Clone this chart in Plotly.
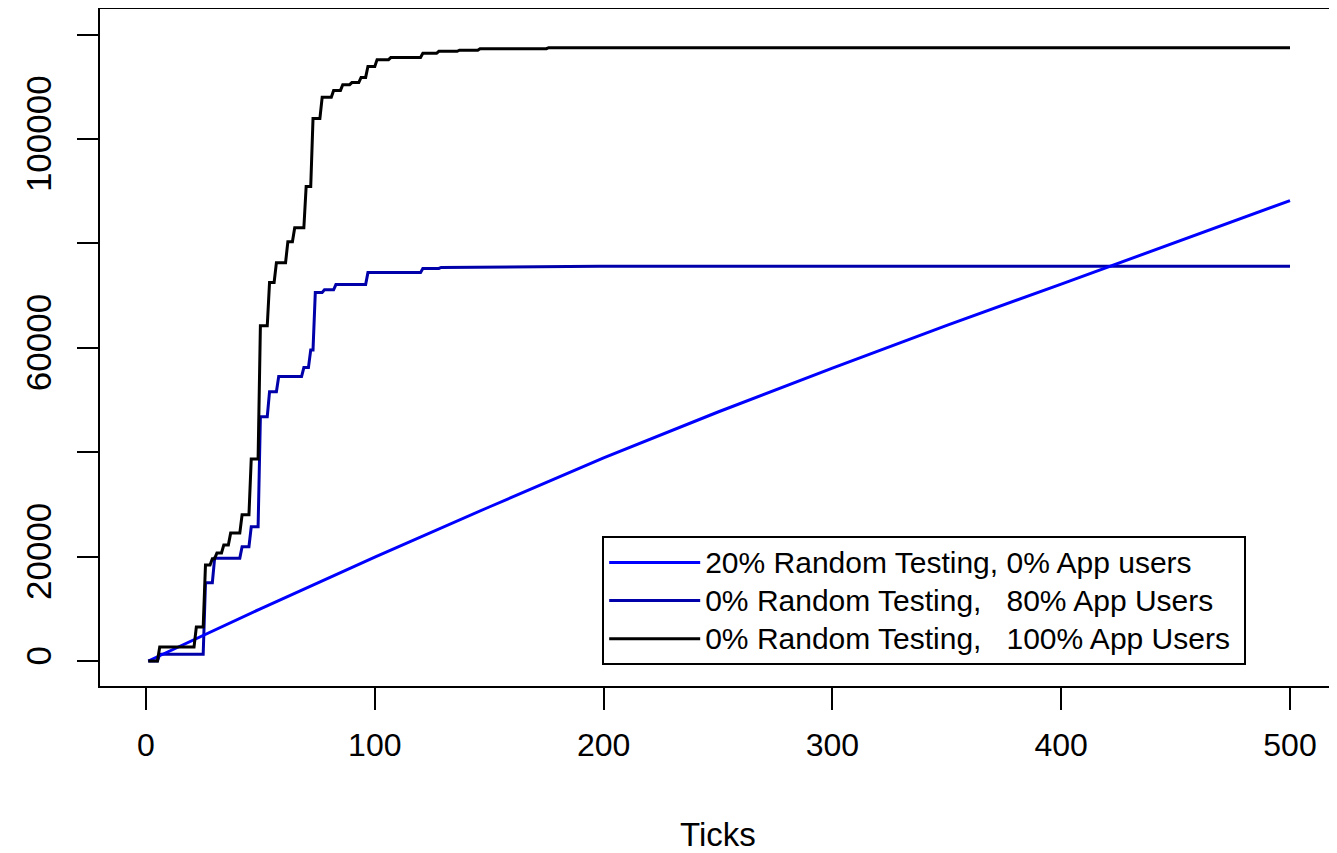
import plotly.graph_objects as go

# ---- data ----
rt20_ticks = [1, 50, 100, 150, 200, 250, 300, 350, 400, 450, 500]
rt20_vals = [0, 10000, 19900, 29500, 38900, 47700, 56100, 64300, 72200, 80200, 88200]

app80_ticks = [1, 5, 6, 25, 26, 29, 30, 41, 42, 45, 46, 49, 50, 53, 54, 57, 58, 68, 69,
               71, 72, 73, 74, 77, 78, 82, 83, 96, 97, 120, 121, 128, 129, 155, 198, 500]
app80_vals = [0, 0, 1300, 1300, 15000, 15000, 19700, 19700, 21900, 21900, 25700, 25700,
              46800, 46800, 51600, 51600, 54500, 54500, 56200, 56200, 59600, 59600, 70600,
              70600, 71100, 71100, 72100, 72100, 74400, 74400, 75200, 75200, 75400, 75500,
              75600, 75600]

app100_ticks = [1, 5, 6, 21, 22, 25, 26, 28, 29, 30, 31, 33, 34, 36, 37, 41, 42, 45, 46,
                49, 50, 53, 54, 56, 57, 61, 62, 64, 65, 69, 70, 72, 73, 76, 77, 81, 82, 85,
                86, 89, 90, 93, 94, 96, 97, 100, 101, 106, 107, 120, 121, 127, 128, 136,
                137, 145, 146, 175, 176, 500]
app100_vals = [0, 0, 2700, 2700, 6500, 6500, 18400, 18400, 19600, 19600, 20700, 20700,
               22200, 22200, 24500, 24500, 28000, 28000, 38700, 38700, 64200, 64200, 72500,
               72500, 76300, 76300, 80300, 80300, 83000, 83000, 90900, 90900, 103900,
               103900, 108000, 108000, 109300, 109300, 110400, 110400, 110800, 110800,
               111800, 111800, 113900, 113900, 115200, 115200, 115600, 115600, 116400,
               116400, 116800, 116800, 117000, 117000, 117300, 117300, 117500, 117500]

series_names = ["20% Random Testing, 0% App users",
                "0% Random Testing,\u00a0\u00a0 80% App Users",
                "0% Random Testing,\u00a0\u00a0 100% App Users\u00a0"]

x_tick_vals = [0, 100, 200, 300, 400, 500]
x_tick_text = ["0", "100", "200", "300", "400", "500"]
y_tick_vals = [0, 20000, 40000, 60000, 80000, 100000, 120000]
y_tick_text = ["0", "20000", "", "60000", "", "100000", ""]

FONT = "Liberation Sans, Arial, sans-serif"


def legend_label(s):
    return '<span style="font-size:30px">' + s + '</span>'


fig = go.Figure()
fig.add_trace(go.Scatter(x=app80_ticks, y=app80_vals, mode="lines",
                         name=legend_label(series_names[1]),
                         line=dict(color="#0000AA", width=3), legendrank=2))
fig.add_trace(go.Scatter(x=rt20_ticks, y=rt20_vals, mode="lines",
                         name=legend_label(series_names[0]),
                         line=dict(color="#0000FF", width=3), legendrank=1))
fig.add_trace(go.Scatter(x=app100_ticks, y=app100_vals, mode="lines",
                         name=legend_label(series_names[2]),
                         line=dict(color="#000000", width=3), legendrank=3))

axis_common = dict(showgrid=False, zeroline=False, showline=True, linecolor="black",
                   linewidth=2, mirror=True, ticks="outside", tickcolor="black",
                   tickwidth=2, automargin=False)

fig.update_xaxes(range=[-20.1, 520.1], tickvals=x_tick_vals, ticktext=x_tick_text,
                 ticklen=22, ticklabelstandoff=8,
                 tickfont=dict(family=FONT, size=32, color="black"),
                 title=dict(text="Ticks", font=dict(family=FONT, size=33, color="black"),
                            standoff=62),
                 **axis_common)
fig.update_yaxes(range=[-4790, 124900], tickvals=y_tick_vals, ticktext=y_tick_text,
                 ticklen=21, tickangle=-90, ticklabelstandoff=12,
                 tickfont=dict(family=FONT, size=35, color="black"),
                 **axis_common)

fig.update_layout(
    width=1329, height=845,
    margin=dict(l=92, r=1, t=1, b=167),
    plot_bgcolor="white", paper_bgcolor="white",
    font=dict(family=FONT, color="black"),
    legend=dict(x=0.4063, y=0.2209, xanchor="left", yanchor="top",
                bordercolor="black", borderwidth=2, bgcolor="white",
                font=dict(family=FONT, size=27, color="black"),
                itemwidth=91, tracegroupgap=0),
    showlegend=True,
)

fig.write_html("out.html")
